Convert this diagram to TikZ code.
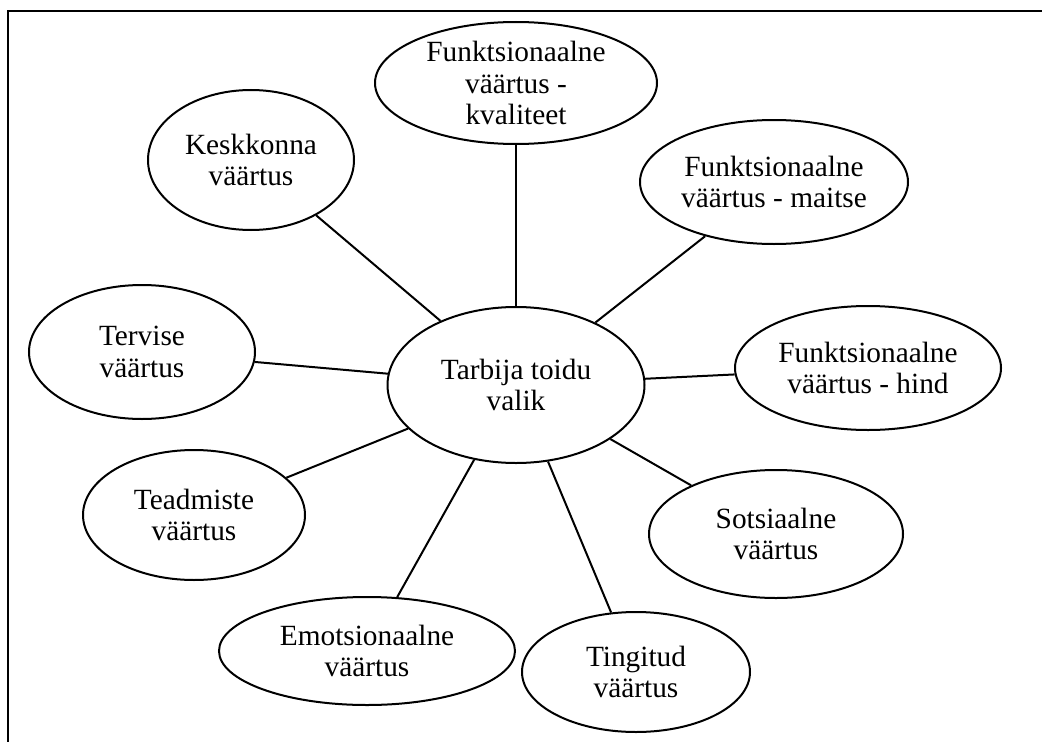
\documentclass[tikz,border=0pt]{standalone}
\usepackage{fontspec}
\setmainfont{Liberation Serif}
\usetikzlibrary{shapes.geometric}

\begin{document}
\begin{tikzpicture}[x=0.75pt, y=-0.75pt, line width=1.5pt,
    bubble/.style 2 args={draw, ellipse, inner sep=0pt,
      minimum width=#1, minimum height=#2},
    words/.style={align=center, inner sep=0pt,
      font=\fontsize{22}{23.5}\selectfont}]
  \useasboundingbox (0,0) rectangle (1042,742);

  % --- frame, cut off at the right and bottom ---
  \draw[line width=1.6pt] (8,742) -- (8,11) -- (1042,11);

  % --- the centre ---
  \node[bubble={192.75pt}{117pt},
        label={[words]center:Tarbija toidu\\valik}] (valik) at (516,385) {};

  % --- the values round it ---
  \node[bubble={211.5pt}{91.5pt},
        label={[words]center:Funktsionaalne\\väärtus -\\kvaliteet}] (kval) at (516,83) {};
  \node[bubble={154.5pt}{105pt},
        label={[words]center:Keskkonna\\väärtus}] (kesk) at (251,160) {};
  \node[bubble={201pt}{93pt},
        label={[words]center:Funktsionaalne\\väärtus - maitse}] (maitse) at (774,182) {};
  \node[bubble={169.5pt}{100.5pt},
        label={[words]center:Tervise\\väärtus}] (tervis) at (142,352) {};
  \node[bubble={199.5pt}{93pt},
        label={[words]center:Funktsionaalne\\väärtus - hind}] (hind) at (868,368) {};
  \node[bubble={166.5pt}{97.5pt},
        label={[words]center:Teadmiste\\väärtus}] (teadm) at (194,515) {};
  \node[bubble={190.5pt}{96pt},
        label={[words]center:Sotsiaalne\\väärtus}] (sots) at (776,534) {};
  \node[bubble={222pt}{81pt},
        label={[words]center:Emotsionaalne\\väärtus}] (emots) at (367,651) {};
  \node[bubble={171pt}{90pt},
        label={[words]center:Tingitud\\väärtus}] (tingit) at (636,672) {};

  % --- spokes ---
  \foreach \v in {kval,kesk,maitse,tervis,hind,teadm,sots,emots,tingit}
    \draw (valik) -- (\v);
\end{tikzpicture}
\end{document}
